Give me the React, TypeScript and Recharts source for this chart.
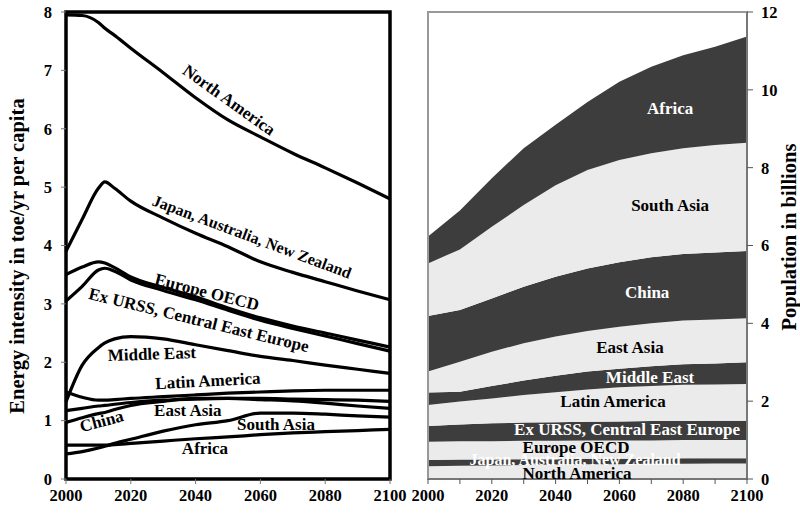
import {
  Area,
  AreaChart,
  Line,
  LineChart,
  ReferenceArea,
  ReferenceDot,
  XAxis,
  YAxis,
} from 'recharts'

// left panel: energy intensity, toe/yr per capita
const years = [2000, 2005, 2010, 2012, 2015, 2020, 2030, 2040, 2050, 2060, 2070, 2080, 2090, 2100]
const northAmerica = [7.95, 7.94, 7.82, 7.72, 7.6, 7.38, 6.96, 6.53, 6.15, 5.86, 5.58, 5.33, 5.07, 4.8]
const japanAusNz = [3.9, 4.45, 4.98, 5.09, 4.98, 4.76, 4.47, 4.21, 3.98, 3.72, 3.54, 3.38, 3.22, 3.07]
const europeOecd = [3.5, 3.63, 3.72, 3.7, 3.62, 3.46, 3.28, 3.12, 2.93, 2.76, 2.62, 2.5, 2.38, 2.26]
const exUrss = [3.05, 3.3, 3.58, 3.61, 3.56, 3.41, 3.23, 3.07, 2.89, 2.72, 2.58, 2.45, 2.32, 2.19]
const middleEast = [1.32, 1.95, 2.25, 2.33, 2.4, 2.44, 2.4, 2.3, 2.2, 2.1, 2.03, 1.95, 1.88, 1.81]
const latinAmerica = [1.49, 1.4, 1.35, 1.35, 1.36, 1.38, 1.41, 1.44, 1.47, 1.49, 1.51, 1.52, 1.52, 1.52]
const eastAsia = [1.17, 1.21, 1.25, 1.26, 1.28, 1.31, 1.35, 1.37, 1.38, 1.38, 1.37, 1.36, 1.35, 1.33]
const china = [0.97, 1.05, 1.12, 1.14, 1.19, 1.26, 1.33, 1.38, 1.38, 1.36, 1.34, 1.3, 1.25, 1.21]
const southAsia = [0.43, 0.47, 0.53, 0.56, 0.61, 0.68, 0.82, 0.93, 1.0, 1.13, 1.13, 1.11, 1.08, 1.06]
const africa = [0.58, 0.58, 0.58, 0.58, 0.59, 0.61, 0.65, 0.69, 0.72, 0.76, 0.79, 0.81, 0.83, 0.85]

// right panel: population in billions (stacked, bottom to top)
const popYears = [2000, 2010, 2020, 2030, 2040, 2050, 2060, 2070, 2080, 2090, 2100]
const popNorthAmerica = [0.33, 0.34, 0.35, 0.36, 0.37, 0.38, 0.38, 0.39, 0.39, 0.4, 0.4]
const popJapanAusNz = [0.16, 0.16, 0.15, 0.15, 0.14, 0.14, 0.14, 0.13, 0.14, 0.13, 0.13]
const popEuropeOecd = [0.47, 0.47, 0.47, 0.47, 0.47, 0.47, 0.47, 0.47, 0.47, 0.47, 0.47]
const popExUrss = [0.4, 0.43, 0.46, 0.47, 0.48, 0.48, 0.49, 0.5, 0.49, 0.5, 0.5]
const popLatinAmerica = [0.54, 0.59, 0.64, 0.71, 0.77, 0.83, 0.88, 0.9, 0.93, 0.93, 0.94]
const popMiddleEast = [0.32, 0.25, 0.32, 0.37, 0.42, 0.46, 0.47, 0.51, 0.53, 0.54, 0.56]
const popEastAsia = [0.54, 0.77, 0.88, 0.96, 1.01, 1.04, 1.08, 1.1, 1.12, 1.13, 1.13]
const popChina = [1.43, 1.33, 1.37, 1.45, 1.54, 1.61, 1.66, 1.7, 1.71, 1.72, 1.73]
const popSouthAsia = [1.35, 1.56, 1.84, 2.1, 2.35, 2.53, 2.63, 2.67, 2.72, 2.76, 2.78]
const popAfrica = [0.69, 1.0, 1.25, 1.46, 1.55, 1.75, 2.01, 2.22, 2.39, 2.53, 2.73]

const xTicks = [2000, 2020, 2040, 2060, 2080, 2100]
const popXTicks = [2000, 2010, 2020, 2030, 2040, 2050, 2060, 2070, 2080, 2090, 2100]
const energyTicks = [0, 1, 2, 3, 4, 5, 6, 7, 8]
const popTicks = [0, 2, 4, 6, 8, 10, 12]

const FONT = '"Liberation Serif", "Times New Roman", serif'
const DARK = '#3d3d3d'
const LIGHT = '#ebebeb'

const energyKeys = [
  'northAmerica', 'japanAusNz', 'europeOecd', 'exUrss', 'middleEast',
  'latinAmerica', 'eastAsia', 'china', 'southAsia', 'africa',
]
const energySeries = [
  northAmerica, japanAusNz, europeOecd, exUrss, middleEast,
  latinAmerica, eastAsia, china, southAsia, africa,
]
const energyData = years.map((year, i) => {
  const row: Record<string, number> = { year }
  energyKeys.forEach((k, j) => (row[k] = energySeries[j][i]))
  return row
})

const popKeys = [
  'northAmerica', 'japanAusNz', 'europeOecd', 'exUrss', 'latinAmerica',
  'middleEast', 'eastAsia', 'china', 'southAsia', 'africa',
]
const popSeries = [
  popNorthAmerica, popJapanAusNz, popEuropeOecd, popExUrss, popLatinAmerica,
  popMiddleEast, popEastAsia, popChina, popSouthAsia, popAfrica,
]
const popData = popYears.map((year, i) => {
  const row: Record<string, number> = { year }
  popKeys.forEach((k, j) => (row[k] = popSeries[j][i]))
  return row
})

// annotations: [text, year, value, angle]
const energyLabels: [string, number, number, number][] = [
  ['North America', 2050.3, 6.49, 35.5],
  ['Japan, Australia, New Zealand', 2057.4, 4.15, 20.5],
  ['Europe OECD', 2043.5, 3.2, 14.5],
  ['Ex URSS, Central East Europe', 2041, 2.72, 13.7],
  ['Middle East', 2026.5, 2.14, -2],
  ['Latin America', 2043.8, 1.68, -3],
  ['East Asia', 2037.6, 1.18, 0],
  ['China', 2011, 0.99, -15],
  ['South Asia', 2064.8, 0.94, 0],
  ['Africa', 2042.9, 0.53, 0],
]

// [text, year, value, white?]
const popLabels: [string, number, number, boolean][] = [
  ['Africa', 2075.9, 9.53, true],
  ['South Asia', 2075.9, 7.04, false],
  ['China', 2068.7, 4.78, true],
  ['East Asia', 2063.3, 3.39, false],
  ['Middle East', 2069.6, 2.6, true],
  ['Latin America', 2058, 1.98, false],
  ['Ex URSS, Central East Europe', 2062.4, 1.26, true],
  ['Europe OECD', 2046.4, 0.8, false],
  ['Japan, Australia, New Zealand', 2046.1, 0.49, true],
  ['North America', 2046.7, 0.15, false],
]

const tickStyle = { fill: '#000', fontSize: 16.5, fontWeight: 700, fontFamily: FONT }

function textShape(text: string, angle: number, fill: string) {
  // the long Japan label is set a touch smaller in the original
  const size = text.startsWith('Japan') ? 16 : 17
  return (p: any) => (
    <text
      x={p.cx}
      y={p.cy}
      transform={`rotate(${angle} ${p.cx} ${p.cy})`}
      textAnchor="middle"
      dominantBaseline="central"
      fill={fill}
      fontFamily={FONT}
      fontWeight={700}
      fontSize={size}
    >
      {text}
    </text>
  )
}

function AxisTitle({ text, x, y }: { text: string; x: number; y: number }) {
  return (
    <div
      style={{
        position: 'absolute',
        left: x,
        top: y,
        transform: 'translate(-50%, -50%) rotate(-90deg)',
        whiteSpace: 'nowrap',
        fontFamily: FONT,
        fontWeight: 700,
        fontSize: 20.5,
        color: '#000',
      }}
    >
      {text}
    </div>
  )
}

export default function App() {
  return (
    <div style={{ position: 'absolute', left: 0, top: 0, width: 800, height: 517, background: '#fff' }}>
      <div style={{ position: 'absolute', left: 0, top: 0 }}>
        <LineChart
          width={420}
          height={517}
          data={energyData}
          margin={{ top: 12, right: 30, left: 0, bottom: 8 }}
        >
          <XAxis
            dataKey="year"
            type="number"
            domain={[2000, 2100]}
            ticks={xTicks}
            tick={tickStyle}
            tickLine={{ stroke: '#777' }}
            tickSize={5}
            tickMargin={5}
            axisLine={false}
            height={30}
            interval={0}
          />
          <YAxis
            type="number"
            domain={[0, 8]}
            ticks={energyTicks}
            tick={tickStyle}
            tickLine={{ stroke: '#777' }}
            tickSize={5}
            tickMargin={9}
            axisLine={false}
            width={66}
            interval={0}
          />
          {energyKeys.map((k) => (
            <Line
              key={k}
              dataKey={k}
              type="monotone"
              stroke="#000"
              strokeWidth={3.2}
              dot={false}
              isAnimationActive={false}
            />
          ))}
          <ReferenceArea x1={2000} x2={2100} y1={0} y2={8} fill="none" stroke="#000" strokeWidth={3.5} />
          {energyLabels.map(([text, year, value, angle]) => (
            <ReferenceDot
              key={text}
              x={year}
              y={value}
              r={1}
              shape={textShape(text, angle, '#000')}
            />
          ))}
        </LineChart>
      </div>

      <div style={{ position: 'absolute', left: 400, top: 0 }}>
        <AreaChart
          width={400}
          height={517}
          data={popData}
          margin={{ top: 12, right: 0, left: 28, bottom: 8 }}
        >
          <XAxis
            dataKey="year"
            type="number"
            domain={[2000, 2100]}
            ticks={popXTicks}
            tickFormatter={(v) => (v % 20 === 0 ? String(v) : '')}
            tick={tickStyle}
            tickLine={{ stroke: '#555' }}
            tickSize={5}
            tickMargin={5}
            axisLine={{ stroke: '#555' }}
            height={30}
            interval={0}
          />
          <YAxis
            orientation="right"
            type="number"
            domain={[0, 12]}
            ticks={popTicks}
            tick={tickStyle}
            tickLine={{ stroke: '#555' }}
            tickSize={6}
            tickMargin={8}
            axisLine={{ stroke: '#555' }}
            width={53}
            interval={0}
          />
          {popKeys.map((k, i) => (
            <Area
              key={k}
              dataKey={k}
              stackId="pop"
              type="linear"
              stroke="none"
              fill={i % 2 === 0 ? LIGHT : DARK}
              fillOpacity={1}
              isAnimationActive={false}
            />
          ))}
          <ReferenceArea x1={2000} x2={2100} y1={0} y2={12} fill="none" stroke="#999" strokeWidth={2} />
          {popLabels.map(([text, year, value, white]) => (
            <ReferenceDot
              key={text}
              x={year}
              y={value}
              r={1}
              shape={textShape(text, 0, white ? '#fff' : '#000')}
            />
          ))}
        </AreaChart>
      </div>

      <AxisTitle text="Energy intensity in toe/yr per capita" x={17} y={256} />
      <AxisTitle text="Population in billions" x={789} y={237} />
    </div>
  )
}
